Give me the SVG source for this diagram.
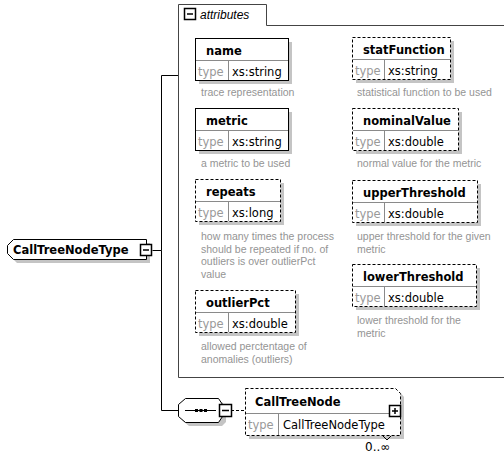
<svg xmlns="http://www.w3.org/2000/svg" width="504" height="454" viewBox="0 0 504 454">
<style>
.shadow{fill:#c4c4c4;stroke:none}
.box{fill:#fff;stroke:#000;stroke-width:1}
.opt{fill:#fff;stroke:#000;stroke-width:1;stroke-dasharray:3,2}
.div{stroke:#8a8a8a;stroke-width:1;fill:none}
.nm{font-family:"DejaVu Sans",sans-serif;font-weight:bold;font-size:11.5px;fill:#000}
.tk{font-family:"DejaVu Sans",sans-serif;font-size:11.5px;fill:#999}
.tv{font-family:"DejaVu Sans",sans-serif;font-size:11.5px;fill:#000}
.ds{font-family:"Liberation Sans",Arial,sans-serif;font-size:10.5px;fill:#949494}
.ln{stroke:#000;stroke-width:1;fill:none}
.cnt{stroke:#444;stroke-width:1;fill:none}
.btn{fill:#fff;stroke:#000;stroke-width:1.5}
.sym{stroke:#000;stroke-width:1.5;fill:none}
</style>

<g id="connectors">
  <path class="ln" d="M152.5,250.5 H161.5 V75.5 H178.5"/>
  <path class="ln" d="M161.5,250.5 V410.5 H178"/>
  <path class="ln" d="M231,410.5 H245" stroke-dasharray="3,2"/>
</g>

<g id="attributes">
  <path class="cnt" d="M178.5,377.5 V4.5 H266.5 V25.5 H504"/>
  <path class="cnt" d="M178.5,377.5 H504"/>
  <rect x="184.5" y="8.5" width="11" height="11" class="btn"/>
  <path class="sym" d="M187,14 H193"/>
  <text x="200" y="19" font-family="Liberation Sans, Arial, sans-serif" font-size="12" font-style="italic" fill="#000">attributes</text>
</g>

<g id="CallTreeNodeType">
  <polygon class="shadow" points="17,243 150,243 150,263 17,263 11,257 11,249"/>
  <polygon class="box" points="13.5,239.5 146.5,239.5 146.5,259.5 13.5,259.5 7.5,253.5 7.5,245.5"/>
  <text x="13" y="254" class="nm" font-size="11">CallTreeNodeType</text>
  <rect x="140.5" y="244.5" width="11" height="11" class="btn"/>
  <path class="sym" d="M143,250 H149"/>
</g>

<g id="name">
  <rect x="199" y="42" width="93" height="42" class="shadow"/>
  <rect x="195.5" y="38.5" width="93" height="42" class="box"/>
  <path class="div" d="M196,60.5 H288 M228.5,61 V80"/>
  <text x="206" y="55" class="nm">name</text>
  <text x="198" y="76" class="tk">type</text>
  <text x="232" y="76" class="tv">xs:string</text>
  <text x="201" y="96" class="ds">trace representation</text>
</g>

<g id="statFunction">
  <rect x="356" y="41" width="98" height="42" class="shadow"/>
  <rect x="352.5" y="37.5" width="98" height="42" class="opt"/>
  <path class="div" d="M353,59.5 H450 M384.5,60 V79"/>
  <text x="363" y="54" class="nm">statFunction</text>
  <text x="355" y="75" class="tk">type</text>
  <text x="388" y="75" class="tv">xs:string</text>
  <text x="357" y="96" class="ds">statistical function to be used</text>
</g>

<g id="metric">
  <rect x="199" y="112" width="93" height="42" class="shadow"/>
  <rect x="195.5" y="108.5" width="93" height="42" class="box"/>
  <path class="div" d="M196,130.5 H288 M228.5,131 V150"/>
  <text x="206" y="125" class="nm">metric</text>
  <text x="198" y="146" class="tk">type</text>
  <text x="232" y="146" class="tv">xs:string</text>
  <text x="201" y="167" class="ds">a metric to be used</text>
</g>

<g id="nominalValue">
  <rect x="356" y="112" width="106" height="42" class="shadow"/>
  <rect x="352.5" y="108.5" width="106" height="42" class="opt"/>
  <path class="div" d="M353,130.5 H458 M384.5,131 V150"/>
  <text x="363" y="125" class="nm">nominalValue</text>
  <text x="355" y="146" class="tk">type</text>
  <text x="388" y="146" class="tv">xs:double</text>
  <text x="357" y="167" class="ds">normal value for the metric</text>
</g>

<g id="repeats">
  <rect x="199" y="183" width="85" height="42" class="shadow"/>
  <rect x="195.5" y="179.5" width="85" height="42" class="opt"/>
  <path class="div" d="M196,201.5 H280 M228.5,202 V221"/>
  <text x="206" y="196" class="nm">repeats</text>
  <text x="198" y="217" class="tk">type</text>
  <text x="232" y="217" class="tv">xs:long</text>
  <text x="201" y="240" class="ds">how many times the process</text>
  <text x="201" y="252.5" class="ds">should be repeated if no. of</text>
  <text x="201" y="265" class="ds">outliers is over outlierPct</text>
  <text x="201" y="277.5" class="ds">value</text>
</g>

<g id="upperThreshold">
  <rect x="356" y="184" width="125" height="42" class="shadow"/>
  <rect x="352.5" y="180.5" width="125" height="42" class="opt"/>
  <path class="div" d="M353,202.5 H477 M384.5,203 V222"/>
  <text x="363" y="197" class="nm">upperThreshold</text>
  <text x="355" y="218" class="tk">type</text>
  <text x="388" y="218" class="tv">xs:double</text>
  <text x="357" y="240" class="ds">upper threshold for the given</text>
  <text x="357" y="252.5" class="ds">metric</text>
</g>

<g id="lowerThreshold">
  <rect x="356" y="268" width="124" height="42" class="shadow"/>
  <rect x="352.5" y="264.5" width="124" height="42" class="opt"/>
  <path class="div" d="M353,286.5 H476 M384.5,287 V306"/>
  <text x="363" y="281" class="nm">lowerThreshold</text>
  <text x="355" y="302" class="tk">type</text>
  <text x="388" y="302" class="tv">xs:double</text>
  <text x="357" y="324" class="ds">lower threshold for the</text>
  <text x="357" y="336.5" class="ds">metric</text>
</g>

<g id="outlierPct">
  <rect x="199" y="294" width="100" height="42" class="shadow"/>
  <rect x="195.5" y="290.5" width="100" height="42" class="opt"/>
  <path class="div" d="M196,312.5 H295 M228.5,313 V332"/>
  <text x="206" y="307" class="nm">outlierPct</text>
  <text x="198" y="328" class="tk">type</text>
  <text x="232" y="328" class="tv">xs:double</text>
  <text x="201" y="350" class="ds">allowed perctentage of</text>
  <text x="201" y="362.5" class="ds">anomalies (outliers)</text>
</g>

<g id="sequence">
  <polygon class="shadow" points="189,402 222,402 226,408 226,422 222,426 189,426 182,420 182,408"/>
  <polygon class="box" points="185.5,398.5 218.5,398.5 222.5,404.5 222.5,416.5 218.5,422.5 185.5,422.5 178.5,416.5 178.5,404.5"/>
  <path class="ln" d="M185,410.5 H216"/>
  <rect x="195" y="409" width="3" height="3" fill="#000"/>
  <rect x="199.5" y="409" width="3" height="3" fill="#000"/>
  <rect x="204" y="409" width="3" height="3" fill="#000"/>
  <rect x="219.5" y="404.5" width="12" height="12" class="btn"/>
  <path class="sym" d="M222,410.5 H229"/>
</g>

<g id="CallTreeNode">
  <polygon class="shadow" points="249,392 400,392 404,397 404,439 249,439"/>
  <polygon class="opt" points="245.5,388.5 395.5,388.5 400.5,393.5 400.5,435.5 245.5,435.5"/>
  <path class="div" d="M246,413.5 H400 M278.5,414 V435"/>
  <text x="255" y="406" class="nm">CallTreeNode</text>
  <text x="248" y="429" class="tk">type</text>
  <text x="283" y="429" class="tv" font-size="10.6">CallTreeNodeType</text>
  <rect x="389.5" y="405.5" width="11" height="11" class="btn"/>
  <path class="sym" d="M392,411 H398 M395,408 V414"/>
  <path class="ln" d="M383,436 L387,440 L391,436"/>
  <text x="365" y="451" font-family="DejaVu Sans, sans-serif" font-size="12" fill="#000">0..∞</text>
</g>
</svg>
